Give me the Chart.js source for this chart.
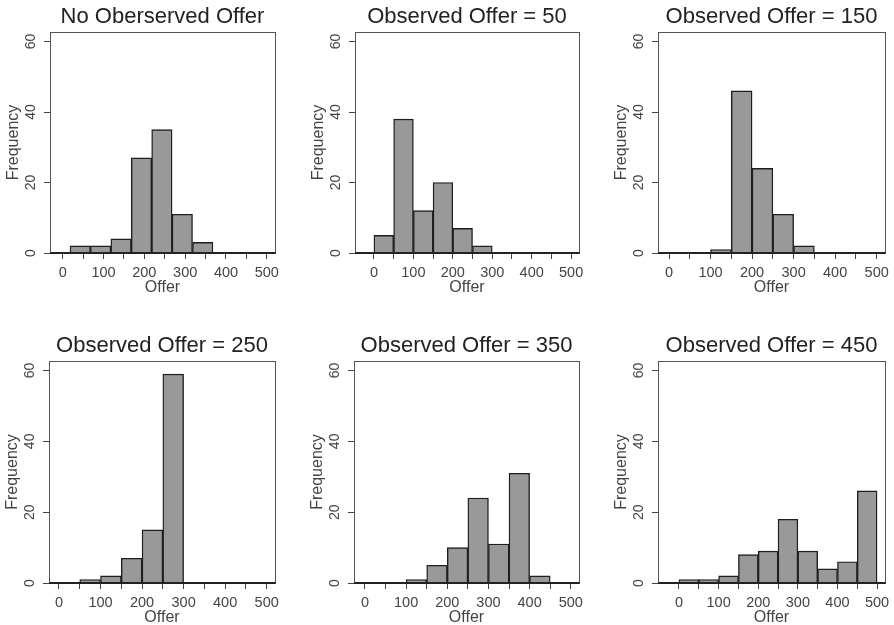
<!DOCTYPE html>
<html>
<head>
<meta charset="utf-8">
<script src="https://cdn.jsdelivr.net/npm/chart.js@4.4.0/dist/chart.umd.min.js"></script>
<style>
body { margin: 0; background: #fff; width: 894px; height: 625px; overflow: hidden; position: relative; }
canvas { position: absolute; }
</style>
</head>
<body>
<script>
// bin centres (Offer) and counts
const noOfferBins = [43, 93, 143, 193, 243, 293, 343];
const offerBins = [25, 75, 125, 175, 225, 275, 325, 375, 425, 475];

const noOfferCounts  = [2, 2, 4, 27, 35, 11, 3];
const offer50Counts  = [5, 38, 12, 20, 7, 2, 0, 0, 0, 0];
const offer150Counts = [0, 0, 1, 46, 24, 11, 2, 0, 0, 0];
const offer250Counts = [0, 1, 2, 7, 15, 59, 0, 0, 0, 0];
const offer350Counts = [0, 0, 1, 5, 10, 24, 11, 31, 2, 0];
const offer450Counts = [1, 1, 2, 8, 9, 18, 9, 4, 6, 26];

const xTicks = [0, 50, 100, 150, 200, 250, 300, 350, 400, 450, 500];
const yTicks = [0, 20, 40, 60];

const titles = ["No Oberserved Offer", "Observed Offer = 50", "Observed Offer = 150",
                "Observed Offer = 250", "Observed Offer = 350", "Observed Offer = 450"];

// plot boxes: left, top, right, bottom in page pixels; xMin = left end of the axis
const panels = [
  { bins: noOfferBins, counts: noOfferCounts,  box: [50, 32, 275, 253],  xMin: -31 },
  { bins: offerBins,   counts: offer50Counts,  box: [355, 32, 579, 253], xMin: -48 },
  { bins: offerBins,   counts: offer150Counts, box: [658, 32, 885, 253], xMin: -26.5 },
  { bins: offerBins,   counts: offer250Counts, box: [49, 361, 275, 583], xMin: -24 },
  { bins: offerBins,   counts: offer350Counts, box: [354, 361, 579, 583], xMin: -26.6 },
  { bins: offerBins,   counts: offer450Counts, box: [658, 361, 885, 583], xMin: -53 }
];

const FONT = "'Liberation Sans', Arial, sans-serif";
const AXIS_W = 50, TITLE_H = 33, XAXIS_H = 50;

// box round the plot, drawn over the bars like R does
const framePlugin = {
  id: "frame",
  afterDatasetsDraw(chart) {
    const a = chart.chartArea, ctx = chart.ctx;
    ctx.save();
    ctx.strokeStyle = "#555";
    ctx.lineWidth = 1;
    ctx.strokeRect(Math.round(a.left) + 0.5, Math.round(a.top) + 0.5,
                   Math.round(a.right - a.left), Math.round(a.bottom - a.top));
    ctx.strokeStyle = "#222";
    ctx.lineWidth = 2;
    ctx.beginPath();
    ctx.moveTo(a.left, Math.round(a.bottom));
    ctx.lineTo(a.right + 0.5, Math.round(a.bottom));
    ctx.stroke();
    ctx.restore();
  }
};

function makePanel(p, i) {
  const [l, t, r, b] = p.box;
  const canvas = document.createElement("canvas");
  const w = (r - l) + 2 * AXIS_W;
  const h = TITLE_H + (b - t) + XAXIS_H;
  canvas.width = w;
  canvas.height = h;
  canvas.style.left = (l - AXIS_W) + "px";
  canvas.style.top = (t - TITLE_H) + "px";
  document.body.appendChild(canvas);

  new Chart(canvas.getContext("2d"), {
    type: "bar",
    data: {
      datasets: [{
        data: p.bins.map((x, k) => ({ x: x, y: p.counts[k] })),
        backgroundColor: "#999999",
        borderColor: "#1e1e1e",
        borderWidth: 1.4,
        categoryPercentage: 1,
        barPercentage: 1
      }]
    },
    options: {
      responsive: false,
      animation: false,
      layout: { padding: 0 },
      plugins: {
        legend: { display: false },
        tooltip: { enabled: false },
        title: {
          display: true,
          text: titles[i],
          color: "#222",
          font: { family: FONT, size: 22, weight: "normal", lineHeight: 1.2 },
          padding: { top: 4.3, bottom: 2.3 }
        }
      },
      scales: {
        x: {
          type: "linear",
          min: p.xMin,
          max: 520,
          offset: false,
          afterBuildTicks: s => { s.ticks = xTicks.map(v => ({ value: v })); },
          afterFit: s => { s.height = XAXIS_H; },
          grid: { offset: false, drawOnChartArea: false, drawTicks: true, tickLength: 6, color: "#444" },
          border: { display: false },
          ticks: {
            autoSkip: false, maxRotation: 0, padding: 5, color: "#444",
            font: { family: FONT, size: 14.5 },
            callback: v => (v % 100 === 0 ? String(v) : "")
          },
          title: {
            display: true, text: "Offer", color: "#444",
            font: { family: FONT, size: 16 },
            padding: { top: 0, bottom: 6 }
          }
        },
        y: {
          min: 0,
          max: 62.7,
          afterBuildTicks: s => { s.ticks = yTicks.map(v => ({ value: v })); },
          afterFit: s => { s.width = AXIS_W; },
          grid: { drawOnChartArea: false, drawTicks: true, tickLength: 6, color: "#444" },
          border: { display: false },
          ticks: {
            minRotation: 90, maxRotation: 90, crossAlign: "center", padding: 5.5,
            color: "#444", font: { family: FONT, size: 14 }
          },
          title: {
            display: true, text: "Frequency", color: "#444",
            font: { family: FONT, size: 16 },
            padding: { top: 4, bottom: 0 }
          }
        },
        // empty right-hand margin so the title centres over the plot box
        yPad: {
          position: "right",
          min: 0,
          max: 62.7,
          afterFit: s => { s.width = AXIS_W; },
          grid: { display: false },
          border: { display: false },
          ticks: { display: false }
        }
      }
    },
    plugins: [framePlugin]
  });
}

panels.forEach(makePanel);
</script>
</body>
</html>
